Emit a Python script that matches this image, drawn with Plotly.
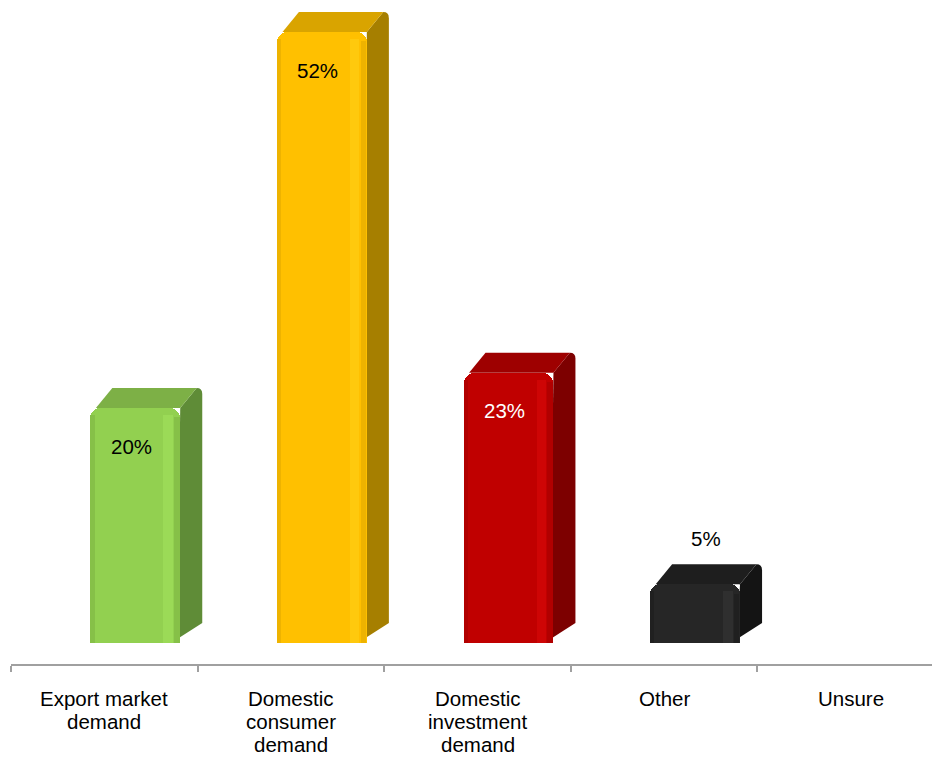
import plotly.graph_objects as go

categories = ["Export market<br>demand", "Domestic<br>consumer<br>demand",
              "Domestic<br>investment<br>demand", "Other", "Unsure"]
values = [20, 52, 23, 5, 0]
labels = ["20%", "52%", "23%", "5%", ""]
label_colors = ["black", "black", "white", "black", "black"]

front_colors = ["#92D050", "#FFC000", "#C00000", "#262626", "#262626"]
light_colors = ["#A3E35E", "#FFD21A", "#DC0A0A", "#383838", "#383838"]
dark_colors = ["#78AE3E", "#D9A300", "#A00000", "#1A1A1A", "#1A1A1A"]
side_colors = ["#5F8C37", "#A67F00", "#7D0000", "#141414", "#141414"]
top_colors = ["#7DB046", "#D9A400", "#9E0000", "#1E1E1E", "#1E1E1E"]

FONT = "Liberation Sans, Arial, sans-serif"
W, H = 932, 758
ml, mb = 11, 94
px_per_cat = 186.6
px_per_pct = 11.75
floor_px = 21           # gap between axis line and bar base (px)
x0 = -0.5
x1 = x0 + (W - ml) / px_per_cat
y0 = -floor_px / px_per_pct
y1 = y0 + (H - mb) / px_per_pct

off_l, off_r = -0.075, 0.407      # front face extent relative to category centre
dx = 22 / px_per_cat              # depth offset (x)
dy = 20 / px_per_pct              # depth offset (y)

fig = go.Figure()
shapes = []
annotations = []
for i, v in enumerate(values):
    if v <= 0:
        continue
    xl, xr = i + off_l, i + off_r
    # side face
    shapes.append(dict(type="path", xref="x", yref="y", layer="below",
                       path=f"M{xr-0.02},{0.3} L{xr+dx},{dy} L{xr+dx},{v+dy-0.5} "
                            f"Q{xr+dx},{v+dy} {xr+dx-0.03},{v+dy} L{xr},{v} Z",
                       fillcolor=side_colors[i], line=dict(width=0)))
    # top face
    shapes.append(dict(type="path", xref="x", yref="y", layer="below",
                       path=f"M{xl+0.03},{v} L{xl+dx},{v+dy} L{xr+dx-0.03},{v+dy} L{xr},{v} Z",
                       fillcolor=top_colors[i], line=dict(width=0)))

fw = off_r - off_l
centers = [i + (off_l + off_r) / 2 for i in range(len(values))]
# main front face
fig.add_trace(go.Bar(x=centers, y=values, width=fw,
                     marker=dict(color=front_colors, line=dict(width=0), cornerradius=10),
                     hoverinfo="skip", showlegend=False))
# dark left strip
fig.add_trace(go.Bar(x=[i + off_l + 0.012 for i in range(len(values))],
                     y=[max(v - 0.6, 0) for v in values], width=0.022,
                     marker=dict(color=dark_colors, line=dict(width=0), opacity=0.45),
                     hoverinfo="skip", showlegend=False))
# light highlight strip near right edge
fig.add_trace(go.Bar(x=[i + off_r - 0.065 for i in range(len(values))],
                     y=[max(v - 0.6, 0) for v in values], width=0.05,
                     marker=dict(color=light_colors, line=dict(width=0), opacity=0.5),
                     hoverinfo="skip", showlegend=False))
# darker right edge
fig.add_trace(go.Bar(x=[i + off_r - 0.018 for i in range(len(values))],
                     y=[max(v - 0.8, 0) for v in values], width=0.03,
                     marker=dict(color=dark_colors, line=dict(width=0), opacity=0.45),
                     hoverinfo="skip", showlegend=False))

# value labels
for i, v in enumerate(values):
    if not labels[i]:
        continue
    if v >= 10:
        annotations.append(dict(x=centers[i], y=v, xref="x", yref="y", text=labels[i],
                                showarrow=False, yshift=-38, xshift=-4,
                                font=dict(size=20.5, color=label_colors[i], family=FONT)))
    else:
        annotations.append(dict(x=centers[i] + dx / 2, y=v, xref="x", yref="y", text=labels[i],
                                showarrow=False, yshift=46,
                                font=dict(size=20.5, color=label_colors[i], family=FONT)))

# category labels (one text per line, tighter line spacing than Plotly's default)
line_gap = 23
axis_px = H - mb
first_line_px = 698
for i, cat in enumerate(categories):
    for j, line in enumerate(cat.split("<br>")):
        annotations.append(dict(x=i, xref="x", y=0, yref="paper", yanchor="middle",
                                yshift=axis_px - (first_line_px + j * line_gap), text=line,
                                showarrow=False, borderpad=0,
                                font=dict(size=20.5, color="black", family=FONT)))

fig.update_layout(
    width=W, height=H, autosize=False,
    margin=dict(l=ml, r=0, t=0, b=mb),
    paper_bgcolor="white", plot_bgcolor="white",
    barmode="overlay", bargap=0,
    shapes=shapes, annotations=annotations,
    font=dict(family=FONT, size=21, color="black"),
    xaxis=dict(range=[x0, x1], tickmode="array", tickvals=list(range(len(categories))),
               showticklabels=False, ticks="", showgrid=False, zeroline=False,
               showline=True, linecolor="#A0A0A0", linewidth=2, automargin=False,
               minor=dict(tickmode="array", tickvals=[k - 0.5 for k in range(len(categories) + 1)],
                          ticks="outside", ticklen=6, tickcolor="#A0A0A0", tickwidth=2,
                          showgrid=False),
               fixedrange=True),
    yaxis=dict(range=[y0, y1], visible=False, showgrid=False, zeroline=False,
               automargin=False, fixedrange=True),
)

fig.write_html("out.html")
